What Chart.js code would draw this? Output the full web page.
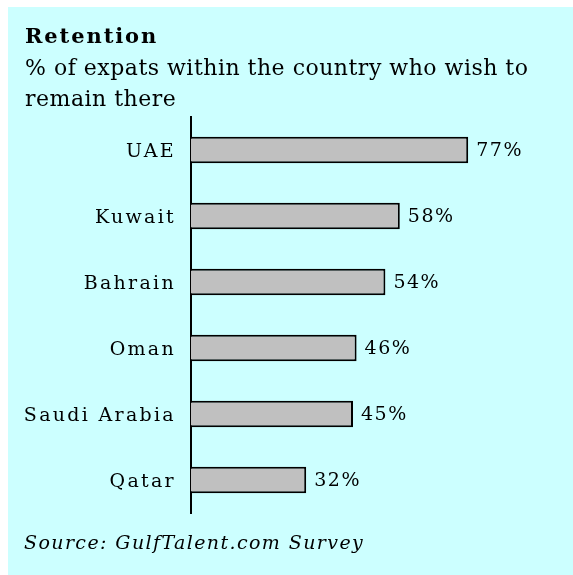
<!DOCTYPE html>
<html>
<head>
<meta charset="utf-8">
<script src="https://cdn.jsdelivr.net/npm/chart.js@4"></script>
<style>
  html, body { margin: 0; padding: 0; background: #fff; }
  #wrap { position: absolute; left: 0; top: 0; width: 573px; height: 575px; }
</style>
</head>
<body>
<div id="wrap"><canvas id="myChart" width="573" height="575"></canvas></div>
<script>
const countries = ['UAE', 'Kuwait', 'Bahrain', 'Oman', 'Saudi Arabia', 'Qatar'];
const retention = [77, 58, 54, 46, 45, 32];
const titleText = 'Retention';
const subtitleLines = ['% of expats within the country who wish to', 'remain there'];
const sourceText = 'Source: GulfTalent.com Survey';

const serif = '"DejaVu Serif", Georgia, serif';

// cyan panel behind everything
const panel = {
  id: 'panel',
  beforeDraw(chart) {
    const c = chart.ctx;
    c.save();
    c.fillStyle = '#ccffff';
    c.fillRect(8, 7, chart.width - 8, chart.height - 7);
    c.restore();
  }
};

// title, subtitle, source, category labels and value labels
const texts = {
  id: 'texts',
  afterDatasetsDraw(chart) {
    const c = chart.ctx;
    c.save();
    c.fillStyle = '#000';
    c.textBaseline = 'alphabetic';
    c.textAlign = 'left';
    c.font = 'bold 21px ' + serif;
    c.letterSpacing = '1.9px';
    c.fillText(titleText, 25, 43);
    c.font = '22px ' + serif;
    c.letterSpacing = '0.5px';
    c.fillText(subtitleLines[0], 25, 75);
    c.fillText(subtitleLines[1], 25, 106);
    c.font = 'italic 19px ' + serif;
    c.letterSpacing = '1.4px';
    c.fillText(sourceText, 24, 549);

    // category labels
    const yScale = chart.scales.y;
    c.font = '19px ' + serif;
    c.letterSpacing = '2.3px';
    c.textAlign = 'right';
    countries.forEach((name, i) => {
      c.fillText(name, 176, yScale.getPixelForValue(i) + 7);
    });

    // value labels
    c.textAlign = 'left';
    c.font = '19px ' + serif;
    c.letterSpacing = '1.5px';
    const meta = chart.getDatasetMeta(0);
    meta.data.forEach((bar, i) => {
      c.fillText(retention[i] + '%', bar.x + 8, bar.y + 6);
    });
    c.restore();
  }
};

const ctx = document.getElementById('myChart');

const data = {
  labels: countries,
  datasets: [{
    data: retention,
    backgroundColor: '#c0c0c0',
    borderColor: '#000',
    borderWidth: 2,
    barPercentage: 0.4,
    categoryPercentage: 1
  }]
};

const config = {
  type: 'bar',
  data: data,
  plugins: [panel, texts],
  options: {
    indexAxis: 'y',
    responsive: false,
    animation: false,
    layout: { padding: { top: 117, bottom: 62, right: 22, left: 0 } },
    plugins: {
      legend: { display: false },
      tooltip: { enabled: false }
    },
    scales: {
      x: { display: false, min: 0, max: 100 },
      y: {
        afterFit: (scale) => { scale.width = 191; },
        grid: { display: false, drawTicks: false },
        border: { display: true, color: '#000', width: 2 },
        ticks: { display: false }
      }
    }
  }
};

const myChart = new Chart(ctx, config);
</script>
</body>
</html>
